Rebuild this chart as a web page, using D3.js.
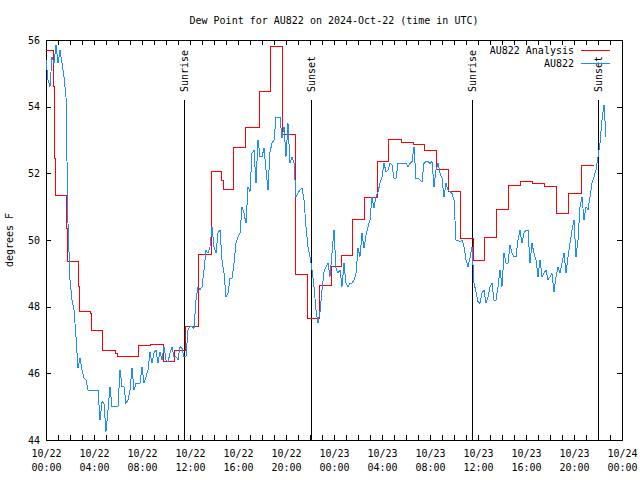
<!DOCTYPE html>
<html><head><meta charset="utf-8">
<script src="https://cdn.jsdelivr.net/npm/d3@7"></script>
<style>
body{margin:0;background:#fff}
text{font-family:"DejaVu Sans Mono","Liberation Mono",monospace;font-size:10px;fill:#000}
</style>
</head><body>
<svg id="c" width="640" height="480"></svg>
<script>
// ---------- data ----------
const titleText = "Dew Point for AU822 on 2024-Oct-22 (time in UTC)";
const yLabel = "degrees F";
const seriesNames = ["AU822 Analysis", "AU822"];
// observation: one value every 10 minutes from 10/22 00:00 UTC
const obsStepHours = 1/6;
const obsValues = [
 55.4,54.8,54.6,55.5,55.3,55.85,
 55.3,55.7,55.3,54.9,54.3,50.5,
 48.8,48.2,47.9,47.1,46.15,46.45,
 46.1,45.85,45.8,45.5,45.5,45.5,
 45.5,45.5,45.5,44.6,45.15,45.1,
 44.25,44.9,45.6,45.0,45.0,45.0,
 45.0,46.1,45.6,45.6,45.1,45.2,
 45.5,46.15,45.5,45.7,45.7,45.7,
 46.2,45.7,45.9,46.1,46.65,46.3,
 46.6,46.7,46.3,46.65,46.4,46.8,
 46.4,46.35,46.6,46.8,46.5,46.5,
 46.4,46.8,46.75,46.5,46.5,47.3,
 47.4,47.4,47.35,48.2,48.6,48.5,
 48.6,49.1,49.7,49.6,49.8,50.4,
 49.8,49.6,50.2,50.3,49.4,49.0,
 48.3,48.4,48.85,48.85,49.3,49.9,
 50.1,50.2,51.0,50.8,50.5,51.6,
 51.45,52.6,52.7,51.7,53.0,52.5,
 52.5,52.75,52.1,51.5,52.65,52.9,
 53.0,53.68,53.68,53.68,53.05,53.4,
 52.5,53.5,52.3,52.5,52.3,51.3,
 51.4,51.5,51.55,51.2,50.4,49.8,
 49.5,49.1,48.6,47.9,47.5,47.85,
 48.5,49.05,49.2,49.3,48.9,49.6,
 50.3,49.15,49.0,49.1,48.6,49.3,
 48.7,48.6,48.7,48.7,48.8,49.0,
 49.75,49.5,50.2,49.75,50.15,50.4,
 50.6,51.3,50.95,51.3,51.45,51.7,
 51.9,52.3,52.05,52.1,52.3,52.25,
 51.85,51.85,52.3,52.3,52.3,52.3,
 52.3,52.2,52.3,52.35,52.8,51.85,
 51.85,51.8,51.75,52.3,52.35,52.35,
 52.3,52.35,51.6,52.1,52.3,52.0,
 51.85,51.3,51.7,51.5,51.45,51.4,
 51.2,50.0,50.0,49.95,50.0,49.8,
 49.4,49.2,49.45,49.8,48.7,48.45,
 48.15,48.1,48.4,48.5,48.1,48.3,
 48.6,48.7,48.2,48.2,48.6,49.1,
 48.6,49.6,49.3,49.3,49.85,49.6,
 49.5,49.5,50.0,50.3,49.9,50.2,
 50.3,50.3,49.3,49.9,49.6,49.4,
 48.9,49.4,48.9,49.0,49.1,48.8,
 48.9,49.0,48.45,48.9,49.2,49.0,
 49.3,49.6,49.0,49.5,49.9,50.3,
 50.6,49.5,50.0,51.0,51.3,50.6,
 51.0,50.9,51.3,51.7,51.9,52.1,
 52.5,52.9,53.6,54.05,53.1
];
// analysis: step values (hours since 10/22 00:00 UTC)
const anaHours = [0,0.61,0.67,0.78,1.72,1.78,2.69,2.78,3.69,3.75,4.72,5.75,5.92,7.72,8.72,9.75,10.72,11.6,12.72,13.78,14.6,14.75,15.61,16.64,17.75,18.72,19.69,20.75,21.75,22.75,23.75,24.6,25.55,26.58,27.61,28.58,29.64,30.6,31.58,32.56,33.5,34.56,35.6,36.58,37.53,38.58,39.56,40.56,41.58,42.56,43.56,44.61,45.64];
const anaValues = [55.68,54.6,52.45,51.35,50.35,49.35,48.6,47.85,47.8,47.3,46.7,46.6,46.5,46.85,46.87,46.36,46.7,47.4,49.57,52.05,51.8,51.52,52.78,53.39,54.45,55.81,53.18,48.98,47.65,48.63,49.2,49.54,50.63,51.28,52.36,53.02,52.93,52.87,52.7,52.13,51.45,50.05,49.39,50.09,50.93,51.64,51.77,51.71,51.61,50.8,51.41,52.24,52.24];
const eventNames = ["Sunrise","Sunset","Sunrise","Sunset"];
const eventHours = [11.58,22.13,35.53,46.0];
const xTickHours = [0,4,8,12,16,20,24,28,32,36,40,44,48];
const xTickDates = ["10/22","10/22","10/22","10/22","10/22","10/22","10/23","10/23","10/23","10/23","10/23","10/23","10/24"];
const xTickTimes = ["00:00","04:00","08:00","12:00","16:00","20:00","00:00","04:00","08:00","12:00","16:00","20:00","00:00"];
const yTicks = [44,46,48,50,52,54,56];

// ---------- chart ----------
const L=46,R=622,T=40,B=440;
const svg = d3.select("#c");
const x = d3.scaleLinear().domain([0,48]).range([L,R]);
const y = d3.scaleLinear().domain([44,56]).range([B,T]);
const hourTicks = d3.range(0,49);

svg.append("text").attr("x",334).attr("y",24).attr("text-anchor","middle").text(titleText);
svg.append("text").attr("transform","translate(13,240) rotate(-90)").attr("text-anchor","middle").text(yLabel);

function tickAxis(axis, tr){
  const g = svg.append("g").attr("transform",tr).call(axis);
  g.select(".domain").remove();
  g.selectAll("text").remove();
  g.selectAll("line").attr("stroke","#000").attr("shape-rendering","crispEdges");
  return g;
}
tickAxis(d3.axisBottom(x).tickValues(hourTicks).tickSizeInner(-5).tickSizeOuter(0), `translate(0,${B})`);
tickAxis(d3.axisTop(x).tickValues(hourTicks).tickSizeInner(-5).tickSizeOuter(0), `translate(0,${T})`);
tickAxis(d3.axisLeft(y).tickValues(yTicks).tickSizeInner(-5).tickSizeOuter(0), `translate(${L},0)`);
tickAxis(d3.axisRight(y).tickValues(yTicks).tickSizeInner(-5).tickSizeOuter(0), `translate(${R},0)`);

const xl = svg.append("g").attr("transform",`translate(0,${B})`)
  .call(d3.axisBottom(x).tickValues(xTickHours).tickSize(0).tickFormat(""));
xl.select(".domain").remove();
xl.selectAll(".tick").each(function(d,i){
  const t = d3.select(this).append("text").attr("text-anchor","middle").attr("fill","#000");
  t.append("tspan").attr("x",0).attr("y",17).text(xTickDates[i]);
  t.append("tspan").attr("x",0).attr("y",31).text(xTickTimes[i]);
});
const yl = svg.append("g").attr("transform",`translate(${L},0)`)
  .call(d3.axisLeft(y).tickValues(yTicks).tickSize(0).tickPadding(6).tickFormat(d3.format("d")));
yl.select(".domain").remove();
yl.selectAll("text").attr("font-family",null).attr("font-size",null).attr("fill","#000");

svg.append("rect").attr("x",L).attr("y",T).attr("width",R-L).attr("height",B-T)
  .attr("fill","none").attr("stroke","#000").attr("shape-rendering","crispEdges");

eventHours.forEach((h,i)=>{
  svg.append("line").attr("x1",x(h)).attr("x2",x(h)).attr("y1",100).attr("y2",B)
    .attr("stroke","#000").attr("shape-rendering","crispEdges");
  svg.append("text").attr("transform",`translate(${x(h)},92) rotate(-90)`)
    .attr("dy","0.35em").attr("text-anchor","start").text(eventNames[i]);
});

const ana = anaHours.map((h,i)=>[h,anaValues[i]]);
svg.append("path").datum(ana)
  .attr("d", d3.line().x(d=>x(d[0])).y(d=>y(d[1])).curve(d3.curveStepAfter))
  .attr("fill","none").attr("stroke","#ff0000").attr("stroke-width",1).attr("shape-rendering","crispEdges");

const obs = obsValues.map((v,i)=>[i*obsStepHours,v]);
svg.append("path").datum(obs)
  .attr("d", d3.line().x(d=>x(d[0])).y(d=>y(d[1])).curve(d3.curveLinear))
  .attr("fill","none").attr("stroke","#1e8cff").attr("stroke-width",1).attr("shape-rendering","crispEdges");

const colors = ["#ff0000","#1e8cff"];
seriesNames.forEach((n,i)=>{
  const ly = 50 + i*13;
  svg.append("text").attr("x",574).attr("y",ly).attr("dy","0.35em").attr("text-anchor","end").text(n);
  svg.append("line").attr("x1",581).attr("x2",610).attr("y1",ly).attr("y2",ly)
    .attr("stroke",colors[i]).attr("shape-rendering","crispEdges");
});
</script>
</body></html>
